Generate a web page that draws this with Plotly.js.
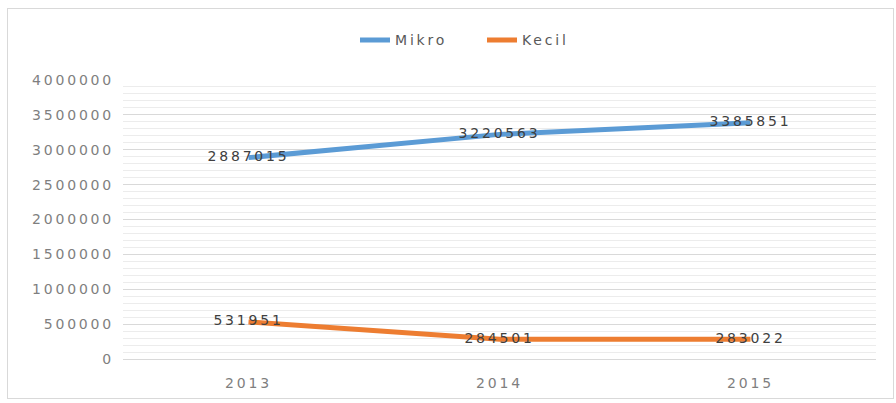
<!DOCTYPE html>
<html>
<head>
<meta charset="utf-8">
<script src="https://cdn.plot.ly/plotly-3.0.1.min.js"></script>
<style>
  html, body { margin: 0; padding: 0; background: #ffffff; }
  #wrap { position: relative; width: 896px; height: 403px; }
  #chart { width: 896px; height: 403px; }
  #frame { position: absolute; left: 7px; top: 8px; width: 885px; height: 389px;
           border: 1px solid #d9d9d9; pointer-events: none; }
  #chart .main-svg text { letter-spacing: 2.8px; }
</style>
</head>
<body>
<div id="wrap">
  <div id="chart"></div>
  <div id="frame"></div>
</div>
<script>
const years = ["2013", "2014", "2015"];
const mikro = [2887015, 3220563, 3385851];
const kecil = [531951, 284501, 283022];
const seriesNames = ["Mikro", "Kecil"];

const fontFam = "DejaVu Sans, Open Sans, sans-serif";

const traces = [
  {
    x: years, y: mikro, name: seriesNames[0], type: "scatter", mode: "lines+text",
    text: mikro.map(String), textposition: "middle center",
    textfont: { family: fontFam, size: 14, color: "#404040" },
    line: { color: "#5b9bd5", width: 5 },
    hoverinfo: "skip"
  },
  {
    x: years, y: kecil, name: seriesNames[1], type: "scatter", mode: "lines+text",
    text: kecil.map(String), textposition: "middle center",
    textfont: { family: fontFam, size: 14, color: "#404040" },
    line: { color: "#ed7d31", width: 5 },
    hoverinfo: "skip"
  }
];

const layout = {
  width: 896, height: 403,
  margin: { l: 123, r: 20, t: 80, b: 44 },
  paper_bgcolor: "#ffffff", plot_bgcolor: "#ffffff",
  font: { family: fontFam, size: 14, color: "#7f7f7f" },
  showlegend: true,
  legend: {
    orientation: "h", xref: "container", yref: "container",
    x: 355 / 896, xanchor: "left", y: 0.9, yanchor: "middle",
    entrywidth: 82, entrywidthmode: "pixels",
    font: { family: fontFam, size: 14, color: "#595959" },
    bgcolor: "rgba(0,0,0,0)"
  },
  xaxis: {
    type: "category", range: [-0.5, 2.5],
    showgrid: false, zeroline: false,
    showline: true, linecolor: "#d9d9d9", linewidth: 1,
    ticks: "", ticklabelstandoff: 11,
    tickfont: { family: fontFam, size: 14, color: "#7f7f7f" }
  },
  yaxis: {
    range: [0, 4000000], dtick: 500000, tick0: 0,
    tickformat: "d",
    showgrid: true, gridcolor: "#d9d9d9", gridwidth: 1,
    minor: { dtick: 100000, showgrid: true, gridcolor: "#ececec", gridwidth: 1 },
    zeroline: false, showline: false, ticks: "",
    ticklabelstandoff: 8,
    tickfont: { family: fontFam, size: 14, color: "#7f7f7f" }
  }
};

Plotly.newPlot("chart", traces, layout, { displayModeBar: false, staticPlot: true });
</script>
</body>
</html>
